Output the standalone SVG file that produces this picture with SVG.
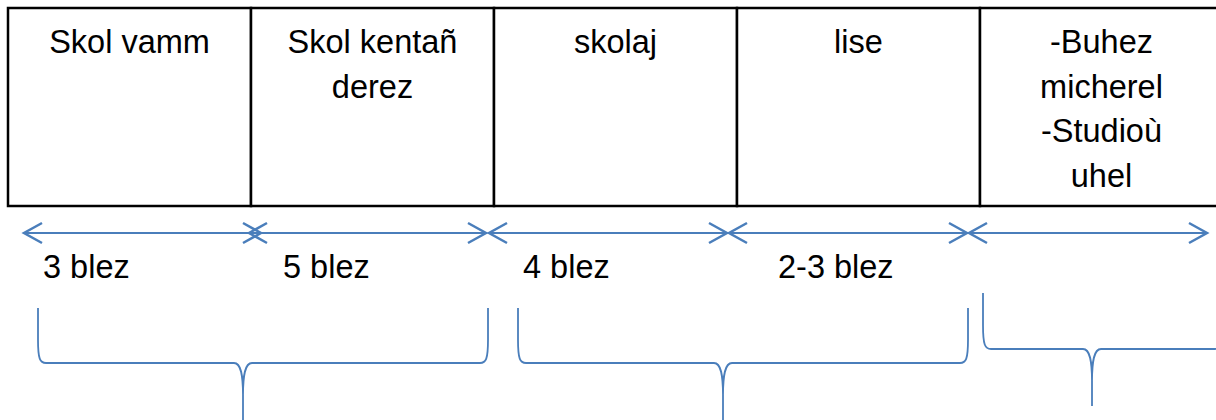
<svg xmlns="http://www.w3.org/2000/svg" width="1216" height="420" viewBox="0 0 1216 420">
<style>
.cell{fill:#fff;stroke:#000;stroke-width:2.5}
.t{font-family:"Liberation Sans",Arial,sans-serif;font-size:32.5px;fill:#000}
.c{text-anchor:middle}
.arr{stroke:#4a7ebb;stroke-width:2.2;fill:none}
.br{stroke:#4a7ebb;stroke-width:1.8;fill:none}
</style>
<defs>
<marker id="chev" markerUnits="userSpaceOnUse" viewBox="-22 -13 26 26" markerWidth="26" markerHeight="26" refX="0" refY="0" orient="auto-start-reverse" overflow="visible">
<path d="M-18,-10 L0,0 L-18,10" fill="none" stroke="#4a7ebb" stroke-width="2.5"/>
</marker>
</defs>
<g id="table">
<g id="n1"><rect class="cell" x="8" y="8" width="243" height="198"/><text class="t c" x="129.5" y="53">Skol vamm</text></g>
<g id="n2"><rect class="cell" x="251" y="8" width="243" height="198"/><text class="t c" x="372.5" y="53">Skol kentañ</text><text class="t c" x="372.5" y="98">derez</text></g>
<g id="n3"><rect class="cell" x="494" y="8" width="243" height="198"/><text class="t c" x="615.5" y="53">skolaj</text></g>
<g id="n4"><rect class="cell" x="737" y="8" width="243" height="198"/><text class="t c" x="858.5" y="53">lise</text></g>
<g id="n5"><rect class="cell" x="980" y="8" width="243" height="198"/><text class="t c" x="1101.5" y="53">-Buhez</text><text class="t c" x="1101.5" y="98">micherel</text><text class="t c" x="1101.5" y="142">-Studioù</text><text class="t c" x="1101.5" y="187">uhel</text></g>
</g>
<g id="connectors">
<line class="arr" x1="24" y1="233" x2="261" y2="233" marker-start="url(#chev)" marker-end="url(#chev)"/>
<line class="arr" x1="249" y1="233" x2="486" y2="233" marker-start="url(#chev)" marker-end="url(#chev)"/>
<line class="arr" x1="489" y1="233" x2="727" y2="233" marker-start="url(#chev)" marker-end="url(#chev)"/>
<line class="arr" x1="729" y1="233" x2="967" y2="233" marker-start="url(#chev)" marker-end="url(#chev)"/>
<line class="arr" x1="969" y1="233" x2="1207" y2="233" marker-start="url(#chev)" marker-end="url(#chev)"/>
</g>
<g id="labels">
<text class="t" x="43" y="278">3 blez</text>
<text class="t" x="283" y="278">5 blez</text>
<text class="t" x="523" y="278">4 blez</text>
<text class="t" x="778" y="278">2-3 blez</text>
</g>
<g id="braces">
<path class="br" d="M38,308 L38,340 C38,359 40,363 46,363 L234,363 C241,363 243,375 243,395 L243,420 M243,395 C243,375 245,363 252,363 L480,363 C486,363 488,359 488,340 L488,308"/>
<path class="br" d="M518,308 L518,340 C518,359 520,363 526,363 L714,363 C721,363 723,375 723,395 L723,420 M723,395 C723,375 725,363 732,363 L960,363 C966,363 968,359 968,340 L968,308"/>
<path class="br" d="M983,293 L983,325 C983,345 985,349 991,349 L1083,349 C1090,349 1092,361 1092,381 L1092,406 M1092,381 C1092,361 1094,349 1101,349 L1214,349 C1220,349 1222,345 1222,325 L1222,293"/>
</g>
</svg>
